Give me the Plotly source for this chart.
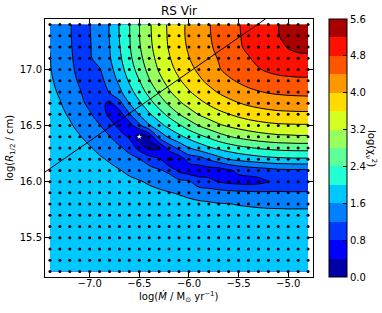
import plotly.graph_objects as go

# ---------------- data ----------------
log_mdot = [-7.4, -7.3, -7.2, -7.1, -7.0, -6.9, -6.8, -6.7, -6.6, -6.5, -6.4, -6.3, -6.2, -6.1,
            -6.0, -5.9, -5.8, -5.7, -5.6, -5.5, -5.4, -5.3, -5.2, -5.1, -5.0, -4.9, -4.8]
log_r = [15.2, 15.3, 15.4, 15.5, 15.6, 15.7, 15.8, 15.9, 16.0, 16.1, 16.2, 16.3, 16.4, 16.5,
         16.6, 16.7, 16.8, 16.9, 17.0, 17.1, 17.2, 17.3, 17.4]

# log(chi2_nu) on the model grid, one row per log_r value (bottom to top)
log_chi2 = [
    [1.90]*27,
    [1.90]*27,
    [1.90]*19 + [1.89]*8,
    [1.90]*12 + [1.89]*3 + [1.88]*5 + [1.87]*7,
    [1.90]*8 + [1.89, 1.89, 1.88, 1.88, 1.87, 1.87, 1.87, 1.87] + [1.86]*8 + [1.85]*3,
    [1.90, 1.90, 1.90, 1.90, 1.90, 1.89, 1.89, 1.88, 1.88, 1.87, 1.87, 1.86, 1.86, 1.86, 1.85, 1.84, 1.81, 1.79, 1.77, 1.76, 1.74, 1.73, 1.73, 1.72, 1.72, 1.72, 1.72],
    [1.90, 1.90, 1.90, 1.89, 1.89, 1.88, 1.87, 1.87, 1.86, 1.86, 1.85, 1.82, 1.77, 1.74, 1.70, 1.67, 1.65, 1.62, 1.61, 1.58, 1.56, 1.54, 1.52, 1.52, 1.51, 1.51, 1.51],
    [1.90, 1.90, 1.89, 1.88, 1.87, 1.87, 1.86, 1.85, 1.82, 1.76, 1.71, 1.67, 1.62, 1.57, 1.51, 1.45, 1.41, 1.36, 1.33, 1.30, 1.28, 1.26, 1.25, 1.24, 1.23, 1.23, 1.23],
    [1.89, 1.88, 1.87, 1.87, 1.86, 1.85, 1.81, 1.74, 1.68, 1.63, 1.55, 1.47, 1.39, 1.32, 1.26, 0.95, 0.90, 0.78, 0.70, 0.66, 0.65, 0.68, 0.81, 0.93, 0.94, 0.95, 0.95],
    [1.88, 1.87, 1.86, 1.86, 1.83, 1.76, 1.69, 1.62, 1.52, 1.42, 1.33, 1.24, 1.12, 0.70, 0.55, 0.60, 0.61, 0.60, 0.75, 0.88, 0.95, 1.00, 1.05, 1.12, 1.13, 1.14, 1.14],
    [1.87, 1.86, 1.85, 1.81, 1.72, 1.65, 1.56, 1.43, 1.32, 1.22, 1.03, 0.85, 0.30, 0.55, 0.95, 1.01, 1.24, 1.44, 1.61, 1.70, 1.77, 1.83, 1.88, 1.91, 1.93, 1.94, 1.94],
    [1.86, 1.85, 1.80, 1.71, 1.63, 1.51, 1.38, 1.26, 1.08, 0.65, 0.30, 0.35, 0.96, 1.30, 1.59, 1.78, 1.94, 2.08, 2.19, 2.29, 2.36, 2.43, 2.48, 2.52, 2.54, 2.55, 2.55],
    [1.86, 1.80, 1.71, 1.62, 1.49, 1.35, 1.22, 0.98, 0.74, 0.15, 0.45, 1.33, 1.67, 1.90, 2.11, 2.29, 2.46, 2.63, 2.77, 2.88, 2.96, 3.03, 3.08, 3.12, 3.13, 3.15, 3.15],
    [1.83, 1.73, 1.64, 1.51, 1.36, 1.22, 0.96, 0.69, 0.61, 1.11, 1.56, 1.86, 2.12, 2.35, 2.59, 2.81, 2.98, 3.14, 3.25, 3.34, 3.41, 3.47, 3.51, 3.54, 3.55, 3.56, 3.56],
    [1.77, 1.67, 1.56, 1.40, 1.25, 1.00, 0.71, 0.62, 1.16, 1.63, 1.95, 2.23, 2.51, 2.79, 3.02, 3.22, 3.37, 3.49, 3.59, 3.69, 3.77, 3.82, 3.87, 3.90, 3.91, 3.92, 3.92],
    [1.72, 1.62, 1.46, 1.30, 1.10, 0.95, 0.70, 1.07, 1.61, 1.94, 2.26, 2.57, 2.88, 3.14, 3.34, 3.50, 3.65, 3.79, 3.90, 3.99, 4.07, 4.13, 4.17, 4.20, 4.22, 4.23, 4.23],
    [1.68, 1.56, 1.39, 1.23, 1.02, 0.92, 1.23, 1.52, 1.85, 2.20, 2.53, 2.87, 3.16, 3.38, 3.57, 3.74, 3.89, 4.03, 4.14, 4.24, 4.32, 4.38, 4.43, 4.46, 4.48, 4.49, 4.50],
    [1.65, 1.50, 1.33, 1.15, 0.93, 1.06, 1.37, 1.68, 2.05, 2.39, 2.77, 3.09, 3.34, 3.56, 3.75, 3.93, 4.09, 4.22, 4.34, 4.44, 4.53, 4.61, 4.66, 4.70, 4.72, 4.73, 4.73],
    [1.62, 1.46, 1.29, 1.09, 0.87, 1.17, 1.47, 1.82, 2.20, 2.56, 2.93, 3.24, 3.48, 3.70, 3.89, 4.07, 4.23, 4.37, 4.50, 4.62, 4.71, 4.78, 4.85, 4.90, 4.93, 4.95, 4.95],
    [1.61, 1.43, 1.26, 1.06, 1.15, 1.36, 1.56, 1.92, 2.30, 2.68, 3.04, 3.33, 3.57, 3.79, 3.99, 4.17, 4.30, 4.42, 4.56, 4.67, 4.78, 4.88, 4.96, 5.02, 5.09, 5.11, 5.12],
    [1.59, 1.41, 1.24, 1.04, 1.17, 1.39, 1.59, 1.98, 2.36, 2.76, 3.11, 3.39, 3.63, 3.85, 4.05, 4.21, 4.34, 4.49, 4.62, 4.76, 4.86, 4.97, 5.06, 5.10, 5.22, 5.29, 5.30],
    [1.58, 1.40, 1.23, 1.02, 1.18, 1.40, 1.61, 2.01, 2.38, 2.79, 3.14, 3.41, 3.65, 3.88, 4.08, 4.26, 4.37, 4.51, 4.64, 4.77, 4.90, 5.00, 5.10, 5.17, 5.43, 5.50, 5.51],
    [1.58, 1.40, 1.23, 1.02, 1.19, 1.40, 1.61, 2.02, 2.39, 2.79, 3.15, 3.42, 3.66, 3.88, 4.08, 4.27, 4.38, 4.52, 4.65, 4.78, 4.92, 5.02, 5.12, 5.19, 5.47, 5.54, 5.55],
]

best_mdot = [-6.5]
best_r = [16.4]

line_mdot = [-7.5, -5.1]
line_r = [16.055, 17.53]

levels = [0.0, 0.4, 0.8, 1.2, 1.6, 2.0, 2.4, 2.8, 3.2, 3.6, 4.0, 4.4, 4.8, 5.2, 5.6]
cbar_ticks = [0.0, 0.8, 1.6, 2.4, 3.2, 4.0, 4.8, 5.6]
x_ticks = [-7.0, -6.5, -6.0, -5.5, -5.0]
y_ticks = [15.5, 16.0, 16.5, 17.0]

# ---------------- styling ----------------
FONT = "DejaVu Sans"


def _interp(points, s):
    for (x0, y0), (x1, y1) in zip(points[:-1], points[1:]):
        if x0 <= s <= x1:
            return y0 + (y1 - y0) * (s - x0) / (x1 - x0)
    return points[-1][1]


def jet(s):
    r = _interp([(0, 0), (0.35, 0), (0.66, 1), (0.89, 1), (1, 0.5)], s)
    g = _interp([(0, 0), (0.125, 0), (0.375, 1), (0.64, 1), (0.91, 0), (1, 0)], s)
    b = _interp([(0, 0.5), (0.11, 1), (0.34, 1), (0.65, 0), (1, 0)], s)
    return "rgb(%d,%d,%d)" % (round(r * 255), round(g * 255), round(b * 255))


n_bands = len(levels) - 1
band_colors = [jet((k + 0.5) / n_bands) for k in range(n_bands)]
cb_scale = []
for k, c in enumerate(band_colors):
    cb_scale += [[k / n_bands, c], [(k + 1) / n_bands, c]]

W, H = 382, 313
ML, MR, MT, MB = 45, 69, 19, 36
plot_w = W - ML - MR
plot_h = H - MT - MB

fig = go.Figure()

# filled bands: one shaded layer per level (shades z >= level), stacked low to high
for k in range(n_bands):
    fig.add_trace(go.Contour(
        x=log_mdot, y=log_r, z=log_chi2,
        contours=dict(type="constraint", operation="<", value=levels[k]),
        fillcolor=band_colors[k], line=dict(width=0),
        showscale=False, hoverinfo="skip", showlegend=False,
    ))

# contour lines
fig.add_trace(go.Contour(
    x=log_mdot, y=log_r, z=log_chi2,
    autocontour=False,
    contours=dict(start=levels[0], end=levels[-1], size=levels[1] - levels[0],
                  coloring="none", showlines=True),
    line=dict(color="black", width=1),
    showscale=False, hoverinfo="skip", showlegend=False,
))

# model grid points
gx = [xv for yv in log_r for xv in log_mdot]
gy = [yv for yv in log_r for xv in log_mdot]
fig.add_trace(go.Scatter(x=gx, y=gy, mode="markers",
                         marker=dict(size=3, color="black"),
                         hoverinfo="skip", showlegend=False, cliponaxis=False))

fig.add_trace(go.Scatter(x=line_mdot, y=line_r, mode="lines",
                         line=dict(color="black", width=1),
                         hoverinfo="skip", showlegend=False))

fig.add_trace(go.Scatter(x=best_mdot, y=best_r, mode="markers",
                         marker=dict(symbol="star", size=4, color="white"),
                         hoverinfo="skip", showlegend=False))

# colour bar carrier
fig.add_trace(go.Scatter(
    x=[None], y=[None], mode="markers", hoverinfo="skip", showlegend=False,
    marker=dict(color=[levels[0]], cmin=levels[0], cmax=levels[-1],
                colorscale=cb_scale, showscale=True,
                colorbar=dict(
                    thickness=18, len=1.0, lenmode="fraction",
                    x=(329 - ML) / plot_w, xanchor="left", xpad=0,
                    y=0.5, yanchor="middle", ypad=0,
                    outlinecolor="black", outlinewidth=1,
                    tickvals=cbar_ticks, ticktext=["%.1f" % t for t in cbar_ticks],
                    ticks="inside", ticklen=4, tickcolor="black",
                    tickfont=dict(family=FONT, size=10, color="black"),
                )),
))

axis_common = dict(
    showline=True, linecolor="black", linewidth=1, mirror="ticks",
    ticks="inside", ticklen=4, tickcolor="black", tickwidth=1,
    showgrid=False, zeroline=False, tickformat=".1f", automargin=False,
    tickfont=dict(family=FONT, size=10, color="black"),
)

fig.update_layout(
    template="none",
    width=W, height=H,
    margin=dict(l=ML, r=MR, t=MT, b=MB, autoexpand=False),
    paper_bgcolor="white", plot_bgcolor="white",
    showlegend=False,
    font=dict(family=FONT, size=10, color="black"),
    xaxis=dict(range=[-7.45, -4.75], tickvals=x_ticks, ticklabelstandoff=-3,
               **axis_common),
    yaxis=dict(range=[15.15, 17.45], tickvals=y_ticks, **axis_common),
    annotations=[
        dict(text="RS Vir", xref="paper", yref="paper", x=0.5, y=1 + 8 / plot_h,
             xanchor="center", yanchor="middle", showarrow=False,
             font=dict(family=FONT, size=12, color="black")),
        dict(text="log(<i>Ṁ</i> / M<sub>⊙</sub> yr<sup>−1</sup>)",
             xref="paper", yref="paper", x=0.5, y=-(297 - (H - MB)) / plot_h,
             xanchor="center", yanchor="middle", showarrow=False,
             font=dict(family=FONT, size=10, color="black")),
        dict(text="log(<i>R</i><sub>1/2</sub> / cm)", textangle=-90,
             xref="paper", yref="paper", x=-(ML - 10) / plot_w, y=0.5,
             xanchor="center", yanchor="middle", showarrow=False,
             font=dict(family=FONT, size=10, color="black")),
        dict(text="log(χ<sub>ν</sub><sup>2</sup>)", textangle=90,
             xref="paper", yref="paper", x=(371 - ML) / plot_w, y=0.5,
             xanchor="center", yanchor="middle", showarrow=False,
             font=dict(family=FONT, size=10, color="black")),
    ],
)

# remove the browser's default page margin so the figure sits at the window origin
fig.write_html("out.html",
               config={"displayModeBar": False},
               post_script="document.body.style.margin='0px';document.body.style.padding='0px';")
